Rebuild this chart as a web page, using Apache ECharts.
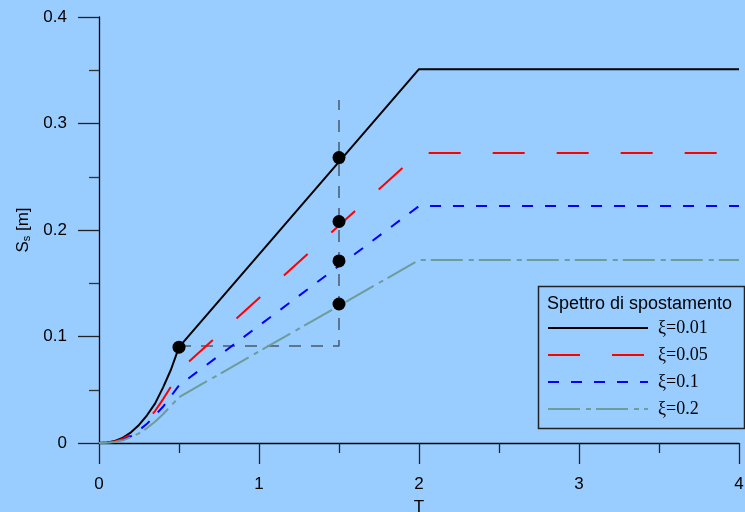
<!DOCTYPE html>
<html><head><meta charset="utf-8">
<script src="https://cdn.jsdelivr.net/npm/echarts@6/dist/echarts.min.js"></script>
<style>html,body{margin:0;padding:0;background:#99ccff;}#c{width:745px;height:512px;}</style>
</head><body><div id="c"></div>
<script>
const T = [0, 0.05, 0.1, 0.15, 0.2, 0.25, 0.3, 0.35, 0.4, 0.45, 0.5, 2, 4];
const s001 = [0, 0.0005, 0.002, 0.005, 0.010, 0.017, 0.026, 0.037, 0.052, 0.069, 0.090, 0.351, 0.351];
const s005 = [0, 0.0004, 0.0015, 0.004, 0.008, 0.014, 0.021, 0.030, 0.041, 0.053, 0.068, 0.2723, 0.2723];
const s01  = [0, 0.0003, 0.0012, 0.003, 0.0065, 0.012, 0.018, 0.026, 0.034, 0.044, 0.054, 0.2225, 0.2225];
const s02  = [0, 0.0003, 0.001, 0.0025, 0.0055, 0.009, 0.014, 0.020, 0.027, 0.035, 0.043, 0.1718, 0.1718];
const dotT = [0.5, 1.5, 1.5, 1.5, 1.5];
const dotS = [0.090, 0.268, 0.208, 0.171, 0.1305];
const refT = [0.5, 1.5, 1.5];
const refS = [0.091, 0.091, 0.322];
const names = ['ξ=0.01', 'ξ=0.05', 'ξ=0.1', 'ξ=0.2'];
const xTicks = ['0', '1', '2', '3', '4'];
const yTicks = ['0', '0.1', '0.2', '0.3', '0.4'];

const zip = (a, b) => a.map((v, i) => [v, b[i]]);
const chart = echarts.init(document.getElementById('c'));
const lineSer = (name, data, color, width, type) => ({
  name, type: 'line', data: zip(T, data), symbol: 'none', silent: true,
  lineStyle: { color, width, type }, itemStyle: { color }, z: 3
});
chart.setOption({
  backgroundColor: '#99ccff',
  animation: false,
  grid: { left: 99, right: 6, top: 17, bottom: 69, containLabel: false, outerBoundsMode: 'none' },
  xAxis: {
    type: 'value', min: 0, max: 4, interval: 1,
    name: 'T', nameLocation: 'middle', nameGap: 56,
    nameTextStyle: { fontFamily: 'Liberation Sans', fontSize: 17, color: '#000' },
    axisLine: { show: true, onZero: false, lineStyle: { color: '#000', width: 1.3 } },
    axisTick: { show: true, inside: false, length: 21, lineStyle: { color: '#222', width: 1.3 } },
    minorTick: { show: true, splitNumber: 2, length: 10, lineStyle: { color: '#222', width: 1.3 } },
    axisLabel: { margin: 33, fontFamily: 'Liberation Sans', fontSize: 17, color: '#000',
      formatter: v => xTicks[Math.round(v)] },
    splitLine: { show: false }
  },
  yAxis: {
    type: 'value', min: 0, max: 0.4, interval: 0.1,
    name: 'S{sub|s} [m]', nameLocation: 'middle', nameGap: 67, nameRotate: 90,
    nameTextStyle: { fontFamily: 'Liberation Sans', fontSize: 17, color: '#000',
      rich: { sub: { fontSize: 11, verticalAlign: 'bottom', padding: [7, 0, 0, 0], fontFamily: 'Liberation Sans' } } },
    axisLine: { show: true, onZero: false, lineStyle: { color: '#000', width: 1.3 } },
    axisTick: { show: true, inside: false, length: 21, lineStyle: { color: '#222', width: 1.3 } },
    minorTick: { show: true, splitNumber: 2, length: 10, lineStyle: { color: '#333', width: 1.3 } },
    axisLabel: { margin: 32, fontFamily: 'Liberation Sans', fontSize: 17, color: '#000',
      formatter: v => yTicks[Math.round(v * 10)] },
    splitLine: { show: false }
  },
  legend: {
    data: names, orient: 'vertical', left: 542, top: 314,
    itemWidth: 100, itemHeight: 14, itemGap: 9,
    itemStyle: { opacity: 0 },
    textStyle: { fontFamily: 'Liberation Serif', fontSize: 18, color: '#000', padding: [0, 0, 0, 5] },
    selectedMode: false
  },
  graphic: [
    { type: 'rect', left: 536, top: 284, shape: { width: 206, height: 142 },
      style: { fill: 'none', stroke: '#222', lineWidth: 1.5 }, z: 10 },
    { type: 'text', left: 547, top: 295,
      style: { text: 'Spettro di spostamento', font: '18px "Liberation Sans"', fill: '#000' }, z: 10 }
  ],
  series: [
    { name: 'ref', type: 'line', data: zip(refT, refS), symbol: 'none', silent: true,
      lineStyle: { color: '#4a5868', width: 1.5, type: [12, 10] }, z: 2 },
    lineSer(names[0], s001, '#000000', 2, 'solid'),
    lineSer(names[1], s005, '#ff0000', 2, [32, 32]),
    lineSer(names[2], s01, '#0000ff', 2, [11, 12]),
    lineSer(names[3], s02, '#6e9c98', 2, [32, 6, 5, 5]),
    { name: 'dots', type: 'scatter', data: zip(dotT, dotS), symbol: 'circle', symbolSize: 13,
      itemStyle: { color: '#000', opacity: 1 }, silent: true, z: 5 }
  ]
});
</script></body></html>
